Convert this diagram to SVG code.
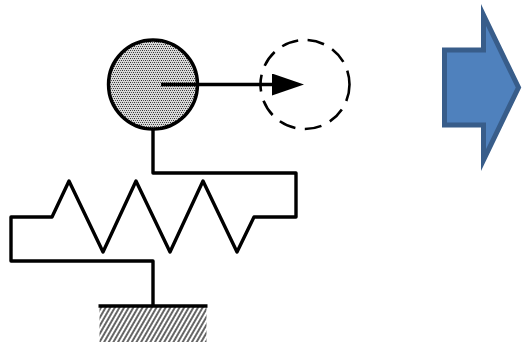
<svg xmlns="http://www.w3.org/2000/svg" width="523" height="344" viewBox="0 0 523 344">
<style>
.ln{fill:none;stroke:#000;stroke-width:3.400;stroke-linejoin:round}
</style>
<defs>
<pattern id="dots" width="4" height="4" patternUnits="userSpaceOnUse" x="109" y="40">
<rect width="4" height="4" fill="#d8d8d8"/>
<rect x="0" y="0" width="1" height="1" fill="#333"/>
<rect x="2" y="0" width="1" height="1" fill="#555"/>
<rect x="1" y="2" width="1" height="1" fill="#333"/>
<rect x="3" y="2" width="1" height="1" fill="#555"/>
</pattern>
<pattern id="hatch" width="4" height="4" patternUnits="userSpaceOnUse" patternTransform="rotate(30 99 307)">
<rect width="4" height="4" fill="#fff"/>
<rect width="2" height="4" fill="#666"/>
</pattern>
<marker id="head" markerUnits="userSpaceOnUse" markerWidth="34" markerHeight="24" refX="8" refY="11" orient="auto">
<path d="M0,0 L32,11 L0,22 Z" fill="#000"/>
</marker>
</defs>
<g id="connectors">
<path id="spring" class="ln" d="M153,306 V261 H11 V217 H52 L69,181 L103,252 L136,181 L170,252 L203,181 L237,252 L254,217 H296 V173 H153 V128"/>
</g>
<g id="ground">
<rect x="99.500" y="307" width="107" height="35" fill="url(#hatch)"/>
<path class="ln" d="M98.500,306 H207.500"/>
</g>
<g id="mass">
<circle cx="153" cy="84.500" r="44.500" fill="url(#dots)" stroke="#000" stroke-width="3.400"/>
</g>
<g id="ghost">
<circle cx="305" cy="84.500" r="44.500" fill="none" stroke="#000" stroke-width="2.600" stroke-dasharray="17 9.500"/>
</g>
<g id="motion">
<path d="M161,84.500 H280" fill="none" stroke="#000" stroke-width="3.400" marker-end="url(#head)"/>
</g>
<g id="block-arrow">
<path d="M483.500,15 L518.500,87.500 L483.500,160 V125 H444.500 V50 H483.500 Z" fill="#4f81bd" stroke="#385d8a" stroke-width="5" stroke-miterlimit="10"/>
</g>
</svg>
